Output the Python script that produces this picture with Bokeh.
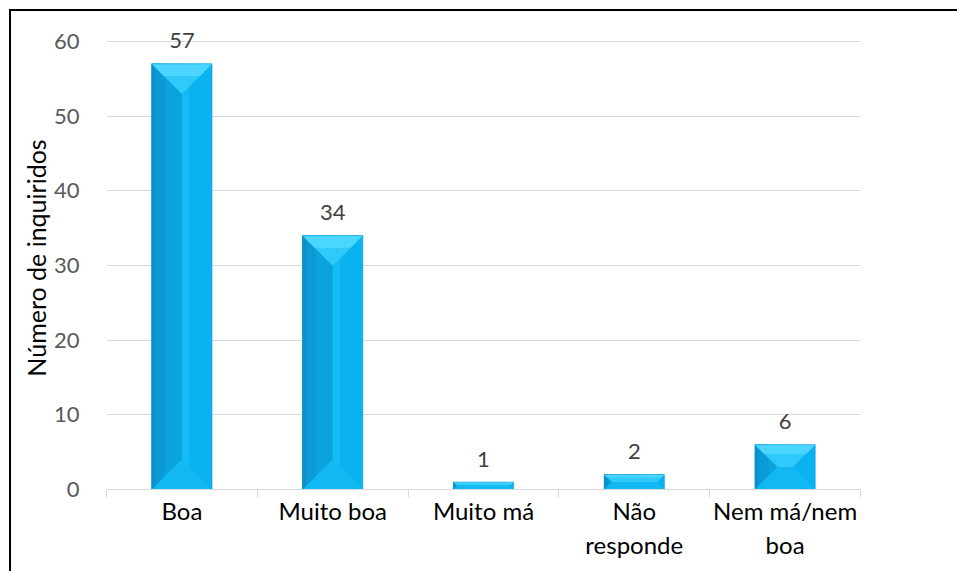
from bokeh.plotting import figure
from bokeh.models import Range1d, FixedTicker
from bokeh.core.properties import value
from bokeh.embed import file_html
from bokeh.resources import INLINE

# Survey answers and number of respondents
categories = ["Boa", "Muito boa", "Muito má", "Não\nresponde", "Nem má/nem\nboa"]
counts = [57, 34, 1, 2, 6]
y_ticks = [0, 10, 20, 30, 40, 50, 60]

FONT = "Lato"
FRAME_W = 754
FRAME_H = 463
Y_END = 62  # a little headroom so the top value label is not clipped
BAR_HALF = 0.2  # half bar width in category units

p = figure(
    frame_width=FRAME_W, frame_height=FRAME_H,
    x_range=Range1d(0, len(categories)), y_range=Range1d(0, Y_END),
    output_backend="svg", toolbar_location=None,
    min_border_left=95, min_border_right=97, min_border_top=15, min_border_bottom=82,
)
p.styles = {
    "margin-left": "9px", "margin-top": "9px",
    "border-left": "2px solid #000", "border-top": "2px solid #000",
}
p.outline_line_color = None
p.background_fill_color = "white"
p.border_fill_color = "white"

# pixel scale used for the 45-degree bevel on every bar
px_x = FRAME_W / len(categories)
px_y = FRAME_H / Y_END

centers = [i + 0.5 for i in range(len(categories))]
x0 = [c - BAR_HALF for c in centers]
x1 = [c + BAR_HALF for c in centers]
w = 2 * BAR_HALF
zeros = [0] * len(counts)

# body faces
p.quad(left=x0, right=x1, bottom=zeros, top=counts, fill_color="#0AB2EF", line_color=None)
p.quad(left=x0, right=centers, bottom=zeros, top=counts, fill_color="#0AA3DE", line_color=None)
p.quad(left=x0, right=[a + 0.22 * w for a in x0], bottom=zeros, top=counts,
       fill_color="#0A9BD7", line_color=None)
p.quad(left=x0, right=[a + 0.06 * w for a in x0], bottom=zeros, top=counts,
       fill_color="#0A90CB", line_color=None)
p.quad(left=centers, right=[c + 0.12 * w for c in centers], bottom=zeros, top=counts,
       fill_color="#14BCF5", line_color=None)

# bevel caps
top_xs, top_ys, top2_xs, top2_ys, bot_xs, bot_ys = [], [], [], [], [], []
for a, b, v in zip(x0, x1, counts):
    d_px = min(BAR_HALF * px_x, v * px_y / 2)
    dx, dy = d_px / px_x, d_px / px_y
    top_xs.append([a, b, b - dx, a + dx])
    top_ys.append([v, v, v - dy, v - dy])
    k = 0.4
    top2_xs.append([a, b, b - dx * k, a + dx * k])
    top2_ys.append([v, v, v - dy * k, v - dy * k])
    bot_xs.append([a, b, b - dx, a + dx])
    bot_ys.append([0, 0, dy, dy])

p.patches(top_xs, top_ys, fill_color="#2FC9FA", line_color=None)
p.patches(top2_xs, top2_ys, fill_color="#4CD6FF", line_color=None)
p.patches(bot_xs, bot_ys, fill_color="#12B8F1", line_color=None)
p.quad(left=x0, right=x1, bottom=zeros, top=counts, fill_color=None,
       line_color="#0B9AD6", line_width=1, line_alpha=0.5)

# value labels above the bars
p.text(x=centers, y=counts, text=[str(v) for v in counts],
       text_align="center", text_baseline="middle", y_offset=-23,
       text_font=value(FONT), text_font_size="22px", text_color="#404040")

# axes
p.xaxis.ticker = FixedTicker(ticks=centers, minor_ticks=list(range(len(categories) + 1)))
p.xaxis.major_label_overrides = {c: lab for c, lab in zip(centers, categories)}
p.xaxis.major_tick_out = 0
p.xaxis.major_tick_in = 0
p.xaxis.minor_tick_in = 0
p.xaxis.minor_tick_out = 8
p.xaxis.minor_tick_line_color = "#D9D9D9"
p.xaxis.axis_line_color = "#D9D9D9"
p.xaxis.major_label_standoff = -2
p.xaxis.major_label_text_font = FONT
p.xaxis.major_label_text_font_size = "24px"
p.xaxis.major_label_text_color = "#000000"

p.yaxis.ticker = FixedTicker(ticks=y_ticks, minor_ticks=[])
p.yaxis.axis_line_color = None
p.yaxis.major_tick_line_color = None
p.yaxis.minor_tick_line_color = None
p.yaxis.major_label_standoff = 21
p.yaxis.major_label_text_font = FONT
p.yaxis.major_label_text_font_size = "22px"
p.yaxis.major_label_text_color = "#595959"
p.yaxis.axis_label = "Número de inquiridos"
p.yaxis.axis_label_text_font = FONT
p.yaxis.axis_label_text_font_size = "25px"
p.yaxis.axis_label_text_font_style = "normal"
p.yaxis.axis_label_text_color = "#000000"
p.yaxis.axis_label_standoff = 0

p.xgrid.grid_line_color = None
p.ygrid.grid_line_color = "#D9D9D9"
p.ygrid.grid_line_width = 1

open("out.html", "w").write(file_html(p, INLINE))
